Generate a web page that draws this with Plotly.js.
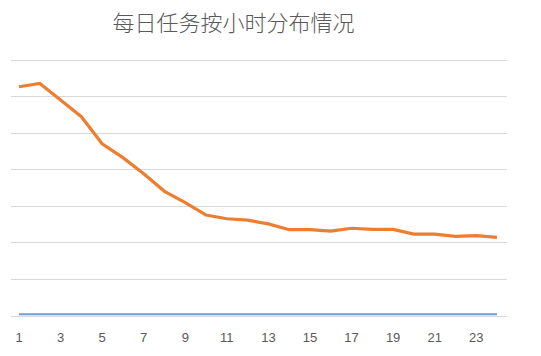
<!DOCTYPE html>
<html>
<head>
<meta charset="utf-8">
<script src="https://cdn.plot.ly/plotly-3.0.1.min.js"></script>
<style>html,body{margin:0;padding:0;background:#fff;}#chart{width:541px;height:356px;}</style>
</head>
<body>
<div id="chart"></div>
<script>
const hours = [1,2,3,4,5,6,7,8,9,10,11,12,13,14,15,16,17,18,19,20,21,22,23,24];
const seriesOrange = [6270,6360,5910,5450,4710,4330,3890,3410,3100,2760,2660,2620,2520,2360,2360,2320,2400,2370,2370,2240,2240,2180,2200,2150];
const seriesBlue = [45,45,45,45,45,45,45,45,45,45,45,45,45,45,45,45,45,45,45,45,45,45,45,45];
const tickVals = [1,3,5,7,9,11,13,15,17,19,21,23];
const tickText = ['1','3','5','7','9','11','13','15','17','19','21','23'];
const titleText = '每日任务按小时分布情况';

const traces = [
  {x: hours, y: seriesBlue, type: 'scatter', mode: 'lines', line: {color: '#6A9FD4', width: 2}, hoverinfo: 'skip'},
  {x: hours, y: seriesOrange, type: 'scatter', mode: 'lines', line: {color: '#ED7D31', width: 3.2}, hoverinfo: 'skip'}
];
const layout = {
  width: 541, height: 356,
  margin: {l: 11, r: 34, t: 56, b: 40},
  paper_bgcolor: '#fff', plot_bgcolor: '#fff',
  showlegend: false,
  title: {text: titleText, x: 233.5/541, xref: 'container', xanchor: 'center', y: 1 - 23/356, yref: 'container', yanchor: 'middle',
          font: {family: 'Noto Sans CJK SC', size: 22, weight: 300, color: '#595959'}},
  xaxis: {range: [0.615, 24.48], tickvals: tickVals, ticktext: tickText, showgrid: false, zeroline: false,
          showline: false, ticks: '', tickfont: {family: 'Liberation Sans', size: 13, color: '#595959'}, ticklabelstandoff: 12},
  yaxis: {range: [0, 7110], tickvals: [0,1000,2000,3000,4000,5000,6000,7000], showgrid: true, gridcolor: '#D9D9D9', gridwidth: 1, zeroline: true, zerolinecolor: '#D9D9D9', zerolinewidth: 1,
          showticklabels: false, ticks: '', showline: false}
};
Plotly.newPlot('chart', traces, layout, {staticPlot: true, displayModeBar: false});
</script>
</body>
</html>
